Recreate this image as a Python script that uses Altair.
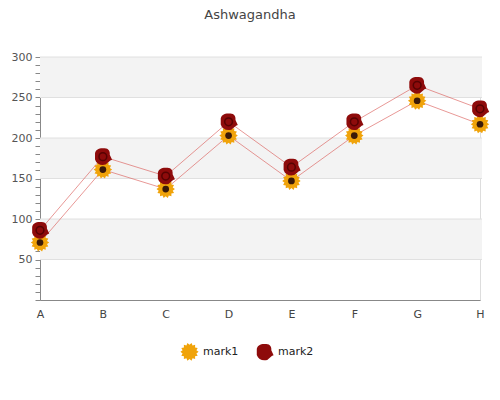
import math
import altair as alt
import pandas as pd

categories = ["A", "B", "C", "D", "E", "F", "G", "H"]
mark1 = [71, 161, 137, 203, 147, 203, 246, 217]
mark2 = [86, 177, 153, 220, 164, 220, 265, 236]
series = ["mark1", "mark2"]
band_lo = [50, 150, 250]
band_hi = [100, 200, 300]
grid_values = [50, 100, 150, 200, 250, 300]
tick_values = list(range(0, 301, 10))

rows = []
for s, vals in zip(series, [mark1, mark2]):
    for c, v in zip(categories, vals):
        rows.append({"cat": c, "value": v, "series": s})
df = pd.DataFrame(rows)
bands = pd.DataFrame({"lo": band_lo, "hi": band_hi})
grid = pd.DataFrame({"g": grid_values})

# symbol paths (unit coords)
pts = []
n = 14
for i in range(2 * n):
    r = 1.0 if i % 2 == 0 else 0.78
    a = math.pi * i / n
    pts.append(f"{r*math.cos(a):.3f},{r*math.sin(a):.3f}")
sunflower = "M" + "L".join(pts) + "Z"
rose = ("M-0.85,-0.2 C-0.9,-0.8 -0.3,-0.95 0.1,-0.9 C0.6,-0.95 0.8,-0.6 0.75,-0.2 "
        "L1,0.35 C0.7,0.4 0.6,0.7 0.3,0.85 C-0.2,1 -0.7,0.8 -0.85,0.3 Z")

W, H = 440, 243
xs = alt.Scale(domain=categories, type="point", padding=0)
ys = alt.Scale(domain=[0, 300], nice=False, zero=True)

x_axis = alt.Axis(title=None, labelAngle=0, ticks=False, domain=True,
                  domainColor="#888", labelColor="#444", labelFontSize=11,
                  labelPadding=8, grid=False)
y_axis = alt.Axis(title=None, values=tick_values,
                  labelExpr="datum.value % 50 == 0 && datum.value > 0 ? datum.label : ''",
                  tickSize=5, tickColor="#888", domainColor="#888",
                  labelColor="#555", labelFontSize=11, labelPadding=3, grid=False)

def X():
    return alt.X("cat:N", scale=xs, sort=categories, axis=x_axis)

def Y(field):
    return alt.Y(field, scale=ys, axis=y_axis)

band_layer = alt.Chart(bands).mark_rect(color="#f3f3f3").encode(
    x=alt.value(0), x2=alt.value(W + 2), y=Y("lo:Q"), y2="hi:Q")

grid_layer = alt.Chart(grid).mark_rule(color="#e0e0e0", strokeWidth=1).encode(
    x=alt.value(0), x2=alt.value(W + 2), y=Y("g:Q"))

lines = alt.Chart(df).mark_line(color="#d9534f", strokeWidth=0.8, opacity=0.75).encode(
    x=X(), y=Y("value:Q"), detail="series:N")

shape_scale = alt.Scale(domain=series, range=[sunflower, rose])
color_scale = alt.Scale(domain=series, range=["#f0a30a", "#8e0b0b"])

leg = dict(title=None, orient="none", direction="horizontal",
           legendX=140, legendY=285, symbolSize=330,
           labelFontSize=11, labelColor="#222",
           columnPadding=16, symbolStrokeWidth=0, symbolOpacity=1)

pts_layer = alt.Chart(df).mark_point(filled=True, opacity=1, size=340, strokeWidth=0).encode(
    x=X(), y=Y("value:Q"),
    shape=alt.Shape("series:N", scale=shape_scale, legend=alt.Legend(**leg)),
    color=alt.Color("series:N", scale=color_scale, legend=alt.Legend(**leg)))

center1 = alt.Chart(df[df.series == "mark1"]).mark_point(
    filled=True, shape="circle", size=45, color="#3a1a08", opacity=1).encode(
    x=X(), y=Y("value:Q"))
center2 = alt.Chart(df[df.series == "mark2"]).mark_point(
    filled=False, shape="circle", size=60, color="#4a0000", strokeWidth=1.5, opacity=0.8).encode(
    x=X(), y=Y("value:Q"))

chart = alt.layer(band_layer, grid_layer, lines, pts_layer, center1, center2).properties(
    width=W, height=H,
    title=alt.Title("Ashwagandha", fontSize=13, fontWeight="normal", color="#444",
                    font="DejaVu Sans", offset=29, dx=-10),
    autosize=alt.AutoSizeParams(type="none"),
    padding={"left": 32, "top": 49, "right": 12, "bottom": 80},
).configure_view(stroke=None).configure(font="DejaVu Sans")

chart.save("out.html", embed_options={"renderer": "svg", "actions": False})
